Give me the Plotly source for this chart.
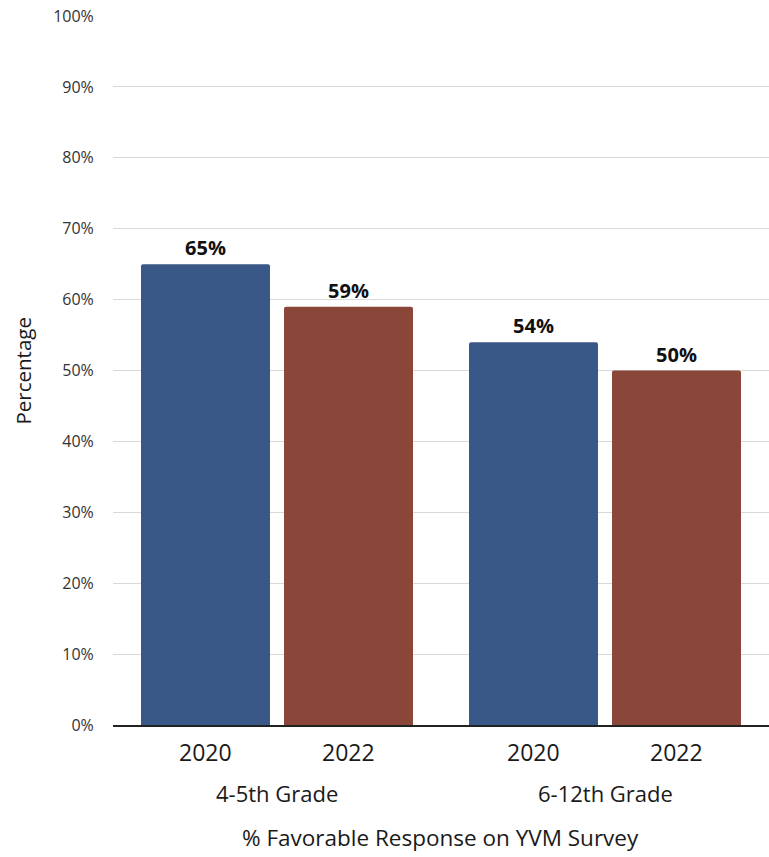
import plotly.graph_objects as go

groups = ["4-5th Grade", "6-12th Grade"]
years = ["2020", "2022"]
values_2020 = [65, 54]
values_2022 = [59, 50]
colors = ["#3a5887", "#8b463a"]
y_ticks = [0, 10, 20, 30, 40, 50, 60, 70, 80, 90, 100]

FONT = "'Open Sans', sans-serif"
BARGAP = 0.128
GROUPGAP = 0.098

fig = go.Figure()
for name, vals, col in zip(years, [values_2020, values_2022], colors):
    fig.add_trace(go.Bar(
        x=groups, y=vals, name=name,
        marker=dict(color=col, cornerradius=2, line=dict(width=0)),
        text=[f"{v}%" for v in vals], textposition="outside",
        textfont=dict(family=FONT, size=20, color="#111", weight="bold"),
        cliponaxis=False,
    ))

annotations = []
slot_px = 656 / 2 * (1 - BARGAP) / 2
for gi, g in enumerate(groups):
    for yi, yr in enumerate(years):
        annotations.append(dict(
            x=g, y=0, xref="x", yref="paper", text=yr, showarrow=False,
            xshift=(yi - 0.5) * slot_px, yshift=-27, yanchor="middle",
            font=dict(family=FONT, size=23, color="#1a1a1a")))
    annotations.append(dict(
        x=g, y=0, xref="x", yref="paper", text=g, showarrow=False,
        yshift=-68, yanchor="middle",
        font=dict(family=FONT, size=22, color="#1a1a1a")))
annotations.append(dict(
    x=(440 - 113) / 656, y=0, xref="paper", yref="paper",
    text="% Favorable Response on YVM Survey", showarrow=False,
    yshift=-112, yanchor="middle",
    font=dict(family=FONT, size=22.5, color="#1a1a1a")))
annotations.append(dict(
    x=(22 - 113) / 656, y=0.5, xref="paper", yref="paper",
    text="Percentage", showarrow=False, textangle=-90,
    xanchor="center", yanchor="middle",
    font=dict(family=FONT, size=20.5, color="#1a1a1a")))

fig.update_layout(
    width=769, height=857,
    margin=dict(l=113, r=0, t=16, b=132),
    plot_bgcolor="white", paper_bgcolor="white",
    barmode="group", bargap=BARGAP, bargroupgap=GROUPGAP,
    showlegend=False,
    annotations=annotations,
    xaxis=dict(showticklabels=False, showline=True, linecolor="#222",
               linewidth=1.5, showgrid=False, zeroline=False),
    yaxis=dict(range=[0, 100], tickvals=y_ticks,
               ticktext=[f"{t}%" for t in y_ticks],
               showgrid=True, gridcolor="#d9d9d9", gridwidth=1,
               zeroline=False, showline=False,
               ticks="outside", ticklen=15, tickcolor="rgba(0,0,0,0)",
               tickfont=dict(family=FONT, size=16, color="#333")),
)

fig.write_html("out.html")
